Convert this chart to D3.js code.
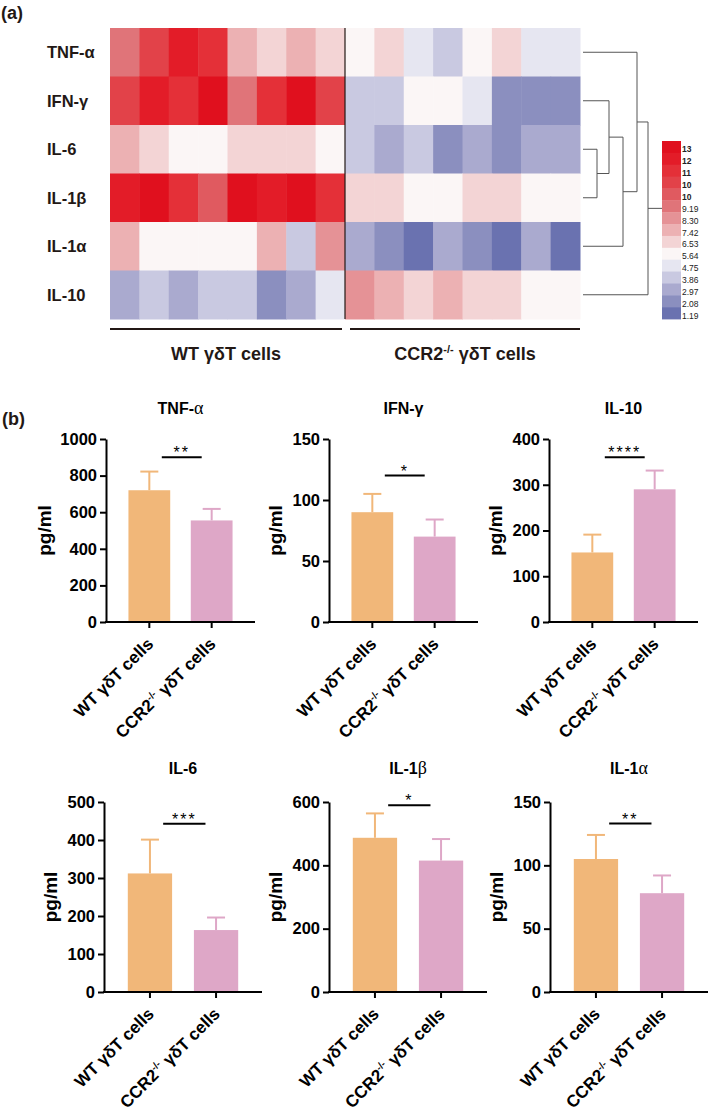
<!DOCTYPE html>
<html><head><meta charset="utf-8">
<script src="https://cdn.jsdelivr.net/npm/d3@7"></script>
<style>body{margin:0;background:#fff}svg{display:block}</style>
</head><body><svg id="c" width="709" height="1116"></svg>
<script>
// ---------- DATA ----------
const genes = ["TNF-α","IFN-γ","IL-6","IL-1β","IL-1α","IL-10"];
const samples = ["WT1","WT2","WT3","WT4","WT5","WT6","WT7","WT8","KO1","KO2","KO3","KO4","KO5","KO6","KO7","KO8"];
const heatTNF  = [9.6,11.4,13.1,12.2,7.8,6.9,7.8,6.9, 6.0,6.9,5.1,4.2,6.0,6.9,5.1,5.1];
const heatIFN  = [11.4,13.1,12.2,13.9,9.6,12.2,13.9,11.4, 4.2,4.2,6.0,6.0,5.1,2.5,2.5,2.5];
const heatIL6  = [7.8,6.9,6.0,6.0,6.9,6.9,6.9,6.0, 4.2,3.3,4.2,2.5,3.3,2.5,3.3,3.3];
const heatIL1b = [13.1,13.9,12.2,10.5,13.9,13.1,13.9,12.2, 6.9,6.9,6.0,6.0,6.9,6.9,6.0,6.0];
const heatIL1a = [7.8,6.0,6.0,6.0,6.0,7.8,4.2,8.7, 3.3,2.5,1.6,3.3,2.5,1.6,3.3,1.6];
const heatIL10 = [3.3,4.2,3.3,4.2,4.2,2.5,3.3,5.1, 8.7,7.8,6.9,7.8,6.9,6.9,6.0,6.0];
const legendValues = [13.64,12.75,11.86,10.97,10.08,9.19,8.30,7.42,6.53,5.64,4.75,3.86,2.97,2.08,1.19];
const legendLabels = ["13","12","11","10","10","9.19","8.30","7.42","6.53","5.64","4.75","3.86","2.97","2.08","1.19"];
const legendColors = ["#e0101e","#e31c28","#e43038","#e24249","#e05a60","#e07479","#e59296","#ecb1b3","#f3d4d5","#fbf6f6","#e6e6f1","#c9c9e1","#aaaacf","#8b8fbf","#6a72b0"];
// dendrogram merges: [childA, childB, height]
const dendroMerges = [["IL-6","IL-1β",1.4],["IFN-γ","m0",2.6],["m1","IL-1α",4.0],["TNF-α","m2",5.4],["m3","IL-10",6.5]];

const groups = ["WT","KO"];
const barTitles = ["TNF-α","IFN-γ","IL-10","IL-6","IL-1β","IL-1α"];
const wtMean = [720, 90, 152, 312, 487, 105];
const wtSD   = [102, 15, 39, 89, 77, 19];
const koMean = [555, 70, 290, 163, 415, 78];
const koSD   = [63, 14, 41, 33, 68, 14];
const yMax   = [1000, 150, 400, 500, 600, 150];
const yTicks = [[0,200,400,600,800,1000],[0,50,100,150],[0,100,200,300,400],[0,100,200,300,400,500],[0,200,400,600],[0,50,100,150]];
const sigLabels = ["**","*","****","***","*","**"];
const sigLevel  = [900, 120, 360, 443, 590, 133];

// ---------- DRAW ----------
const FONT = "'Liberation Sans', Arial, Helvetica, sans-serif";
const DARK = "#231815";
const svg = d3.select("#c").style("font-family", FONT);
svg.append("rect").attr("width",709).attr("height",1116).attr("fill","#fff");

svg.append("text").attr("x",1).attr("y",19).attr("font-size",18).attr("font-weight","bold").attr("fill",DARK).text("(a)");
svg.append("text").attr("x",2).attr("y",425).attr("font-size",18).attr("font-weight","bold").attr("fill",DARK).text("(b)");

// heatmap
const heatRows = [heatTNF, heatIFN, heatIL6, heatIL1b, heatIL1a, heatIL10];
const hx = d3.scaleBand().domain(samples).range([110,580]);
const hy = d3.scaleBand().domain(genes).range([28,319]);
const ascVals = legendValues.slice().reverse();
const color = d3.scaleThreshold().domain(ascVals.slice(1)).range(legendColors.slice().reverse());

const cells = [];
genes.forEach((gname,i)=>heatRows[i].forEach((v,j)=>cells.push({g:gname,s:samples[j],v})));
svg.append("g").selectAll("rect").data(cells).join("rect")
  .attr("x",d=>hx(d.s)).attr("y",d=>hy(d.g))
  .attr("width",hx.bandwidth()+0.5).attr("height",hy.bandwidth()+0.5)
  .attr("fill",d=>color(d.v));
// separator
svg.append("line").attr("x1",hx("KO1")).attr("x2",hx("KO1")).attr("y1",28).attr("y2",319).attr("stroke",DARK).attr("stroke-width",1.2);

svg.append("g").selectAll("text").data(genes).join("text")
  .attr("x",47).attr("y",d=>hy(d)+hy.bandwidth()/2+6)
  .attr("font-size",16.5).attr("font-weight","bold").attr("fill",DARK).text(d=>d);

// group underlines + labels
svg.append("line").attr("x1",110).attr("x2",342).attr("y1",329).attr("y2",329).attr("stroke",DARK).attr("stroke-width",2);
svg.append("line").attr("x1",350).attr("x2",580).attr("y1",329).attr("y2",329).attr("stroke",DARK).attr("stroke-width",2);
svg.append("text").attr("x",226).attr("y",360).attr("text-anchor","middle").attr("font-size",18).attr("font-weight","bold").attr("fill",DARK).text("WT γδT cells");
const kt = svg.append("text").attr("x",465).attr("y",360).attr("text-anchor","middle").attr("font-size",18).attr("font-weight","bold").attr("fill",DARK);
kt.append("tspan").text("CCR2");
kt.append("tspan").attr("font-size",11).attr("dy",-7).text("-/-");
kt.append("tspan").attr("dy",7).text(" γδT cells");

// dendrogram
const dx = d3.scaleLinear().domain([0,6.5]).range([583,648]);
const nodes = {};
genes.forEach(g=>nodes[g]={y:hy(g)+hy.bandwidth()/2,h:0});
const dg = svg.append("g").attr("stroke","#555").attr("stroke-width",1).attr("fill","none");
dendroMerges.forEach((m,i)=>{
  const a=nodes[m[0]], b=nodes[m[1]], h=m[2];
  const xm = dx(h);
  [a,b].forEach(c=>dg.append("line").attr("x1",dx(c.h)).attr("x2",xm).attr("y1",c.y).attr("y2",c.y));
  dg.append("line").attr("x1",xm).attr("x2",xm).attr("y1",a.y).attr("y2",b.y);
  nodes["m"+i]={y:(a.y+b.y)/2,h};
});
const rootN = nodes["m"+(dendroMerges.length-1)];
dg.append("line").attr("x1",dx(rootN.h)).attr("x2",662).attr("y1",rootN.y).attr("y2",rootN.y);

// legend
const ly = d3.scaleBand().domain(legendValues).range([141,319]);
const lg = svg.append("g");
lg.selectAll("rect").data(legendValues).join("rect")
  .attr("x",662).attr("y",d=>ly(d)).attr("width",19).attr("height",ly.bandwidth()+0.4)
  .attr("fill",d=>color(d));
lg.selectAll("text").data(legendValues).join("text")
  .attr("x",682).attr("y",d=>ly(d)+ly.bandwidth()/2+5.5)
  .attr("font-size",8.5).attr("fill","#222")
  .attr("font-weight",(d,i)=>i<5?"bold":"normal")
  .text((d,i)=>legendLabels[i]);

// bar charts
const colX = [[106,329,549],[104,329,550]];
const rowTop=[439,802], rowBottom=[622,992], rowW=[149,158], rowTitleY=[414,774];
const fills = {WT:"#f1b779", KO:"#dea7c7"};

function addGroupLabel(sel, grp){
  if(grp==="WT"){ sel.text("WT γδT cells"); return; }
  sel.append("tspan").text("CCR2");
  sel.append("tspan").attr("font-size",10).attr("dy",-7).text("-/-");
  sel.append("tspan").attr("dy",7).text(" γδT cells");
}

barTitles.forEach((title,i)=>{
  const r = Math.floor(i/3), c = i%3;
  const x0 = colX[r][c], W = rowW[r], top=rowTop[r], bottom=rowBottom[r];
  const g = svg.append("g");
  const x = d3.scaleBand().domain(groups).range([x0,x0+W]).paddingInner(0.33).paddingOuter(0.36);
  const y = d3.scaleLinear().domain([0,yMax[i]]).range([bottom,top]);
  const data = [{k:"WT",m:wtMean[i],sd:wtSD[i]},{k:"KO",m:koMean[i],sd:koSD[i]}];
  const bw = x.bandwidth();
  // error bars
  data.forEach(d=>{
    const cx = x(d.k)+bw/2;
    g.append("line").attr("x1",cx).attr("x2",cx).attr("y1",y(d.m)).attr("y2",y(d.m+d.sd)).attr("stroke",fills[d.k]).attr("stroke-width",2);
    g.append("line").attr("x1",cx-9).attr("x2",cx+9).attr("y1",y(d.m+d.sd)).attr("y2",y(d.m+d.sd)).attr("stroke",fills[d.k]).attr("stroke-width",2);
  });
  g.selectAll("rect.bar").data(data).join("rect").attr("class","bar")
    .attr("x",d=>x(d.k)).attr("y",d=>y(d.m)).attr("width",bw).attr("height",d=>bottom-y(d.m))
    .attr("fill",d=>fills[d.k]);
  // axes
  const ya = g.append("g").attr("transform",`translate(${x0},0)`)
    .call(d3.axisLeft(y).tickValues(yTicks[i]).tickSize(6).tickSizeOuter(0).tickPadding(3).tickFormat(d3.format("d")));
  const xa = g.append("g").attr("transform",`translate(0,${bottom})`)
    .call(d3.axisBottom(x).tickSize(6).tickSizeOuter(0).tickFormat(""));
  [ya,xa].forEach(a=>{
    a.select(".domain").attr("stroke","#000").attr("stroke-width",2);
    a.selectAll(".tick line").attr("stroke","#000").attr("stroke-width",2);
    a.selectAll("text").attr("font-size",16.5).attr("font-weight","bold").attr("fill","#000").attr("font-family",FONT);
  });
  xa.select(".domain").attr("d",`M${x0-1},0H${x0+W}`);
  // x labels
  groups.forEach(k=>{
    const cx = x(k)+bw/2;
    const t = g.append("text").attr("transform",`translate(${cx+5},${bottom+23}) rotate(-45)`)
      .attr("text-anchor","end").attr("font-size",17).attr("font-weight","bold").attr("fill","#000");
    addGroupLabel(t,k);
  });
  // y label
  g.append("text").attr("transform",`translate(${x0-(i===0?55:47)},${(top+bottom)/2}) rotate(-90)`)
    .attr("text-anchor","middle").attr("font-size",19).attr("font-weight","bold").attr("fill","#000").text("pg/ml");
  // title
  const tt = g.append("text").attr("x",x0+W/2).attr("y",rowTitleY[r]).attr("text-anchor","middle")
    .attr("font-size",16).attr("font-weight","bold").attr("fill","#000");
  const last = title.slice(-1);
  if(last==="α"||last==="β"){
    tt.append("tspan").text(title.slice(0,-1));
    tt.append("tspan").attr("font-family","'Liberation Serif', 'DejaVu Serif', serif").attr("font-weight","normal").attr("font-size",18).text(last);
  } else tt.text(title);
  // significance
  const c1 = x("WT")+bw/2, c2 = x("KO")+bw/2, step = x.step();
  const sy = y(sigLevel[i]);
  g.append("line").attr("x1",c1+0.2*step).attr("x2",c2-0.16*step).attr("y1",sy).attr("y2",sy).attr("stroke","#000").attr("stroke-width",2);
  g.append("text").attr("x",(c1+0.2*step+c2-0.16*step)/2).attr("y",sy+1).attr("text-anchor","middle")
    .attr("font-size",16).attr("letter-spacing",2).attr("fill","#000").text(sigLabels[i]);
});
</script>
</body></html>
